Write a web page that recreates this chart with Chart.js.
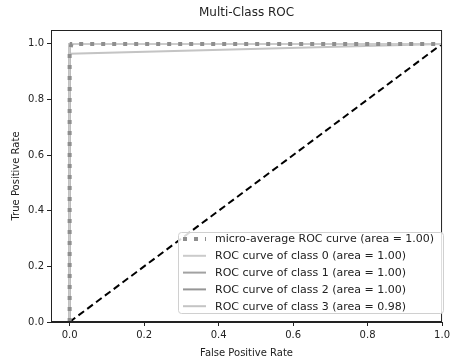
<!DOCTYPE html>
<html>
<head>
<meta charset="utf-8">
<script src="https://cdn.jsdelivr.net/npm/chart.js@4.4.0/dist/chart.umd.min.js"></script>
<style>
  html, body { margin: 0; padding: 0; background: #fff; }
  #wrap { width: 453px; height: 359px; }
</style>
</head>
<body>
<div id="wrap"><canvas id="roc" width="453" height="359"></canvas></div>
<script>
// curve data
const microFpr = [0, 0, 0.005, 1]
const microTpr = [0, 0.97, 1, 1]
const class0Fpr = [0, 0, 1]
const class0Tpr = [0, 1, 1]
const class1Fpr = [0, 0, 1]
const class1Tpr = [0, 1, 1]
const class2Fpr = [0, 0, 1]
const class2Tpr = [0, 1, 1]
const class3Fpr = [0, 0, 1]
const class3Tpr = [0, 0.965, 1]
const chanceFpr = [0, 1]
const chanceTpr = [0, 1]
const tickValues = [0, 0.2, 0.4, 0.6, 0.8, 1.0]
const labels = [
    'micro-average ROC curve (area = 1.00)',
    'ROC curve of class 0 (area = 1.00)',
    'ROC curve of class 1 (area = 1.00)',
    'ROC curve of class 2 (area = 1.00)',
    'ROC curve of class 3 (area = 0.98)'
]

const toPoints = (xs, ys) => xs.map((x, i) => ({ x: x, y: ys[i] }))
const font = 'DejaVu Sans'

function line(label, xs, ys, color, width, dash) {
    return {
        label: label,
        data: toPoints(xs, ys),
        showLine: true,
        borderColor: color,
        borderWidth: width,
        borderDash: dash || [],
        pointRadius: 0,
        fill: false,
        tension: 0
    }
}

// frame on all four sides + legend box inside the plot
const framePlugin = {
    id: 'frame',
    afterDraw(chart) {
        const { ctx, chartArea: a } = chart
        ctx.save()
        ctx.strokeStyle = '#222'
        ctx.lineWidth = 1
        ctx.strokeRect(a.left + 0.5, a.top + 0.5, a.right - a.left - 1, a.bottom - a.top - 1)

        // legend
        const bx = 178, by = 232, bw = 266, bh = 82
        ctx.fillStyle = 'rgba(255,255,255,0.85)'
        ctx.strokeStyle = '#d0d0d0'
        ctx.beginPath()
        ctx.roundRect(bx + 0.5, by + 0.5, bw - 1, bh - 1, 3)
        ctx.fill()
        ctx.stroke()
        ctx.font = '11px ' + font
        ctx.textBaseline = 'middle'
        chart.data.datasets.slice(0, 5).forEach((ds, i) => {
            const y = 239 + i * 16.8
            ctx.strokeStyle = ds.borderColor
            ctx.lineWidth = ds.borderWidth
            ctx.setLineDash(ds.borderDash)
            ctx.beginPath()
            ctx.moveTo(183, y)
            ctx.lineTo(206, y)
            ctx.stroke()
            ctx.setLineDash([])
            ctx.fillStyle = '#222'
            ctx.fillText(ds.label, 215, y + 0.5)
        })
        ctx.restore()
    }
}

new Chart(document.getElementById('roc').getContext('2d'), {
    type: 'scatter',
    data: {
        datasets: [
            line(labels[0], microFpr, microTpr, '#8e8e8e', 4, [4, 7]),
            line(labels[1], class0Fpr, class0Tpr, '#cbcbcb', 2),
            line(labels[2], class1Fpr, class1Tpr, '#a2a2a2', 2),
            line(labels[3], class2Fpr, class2Tpr, '#969696', 2),
            line(labels[4], class3Fpr, class3Tpr, '#c4c4c4', 2),
            line('chance', chanceFpr, chanceTpr, '#000', 2, [7, 4])
        ]
    },
    options: {
        responsive: false,
        animation: false,
        layout: { padding: { left: 0, right: 9, top: 0, bottom: 0 } },
        plugins: {
            legend: { display: false },
            tooltip: { enabled: false },
            title: {
                display: true,
                text: 'Multi-Class ROC',
                fullSize: false,
                color: '#222',
                font: { family: font, size: 12, weight: 'normal' },
                padding: { top: 6, bottom: 9.6 }
            }
        },
        scales: {
            x: {
                type: 'linear',
                min: -0.05,
                max: 1.0,
                afterBuildTicks: s => { s.ticks = tickValues.map(v => ({ value: v })) },
                afterFit: s => { s.height = 37 },
                grid: { drawOnChartArea: false, drawTicks: true, tickLength: 4, color: '#222' },
                border: { display: true, color: '#222' },
                ticks: {
                    color: '#222',
                    font: { family: font, size: 10 },
                    padding: 3,
                    maxRotation: 0,
                    callback: v => v.toFixed(1)
                },
                title: {
                    display: true,
                    text: 'False Positive Rate',
                    color: '#222',
                    font: { family: font, size: 10 },
                    padding: { top: 2, bottom: 0 }
                }
            },
            y: {
                type: 'linear',
                min: 0,
                max: 1.05,
                afterBuildTicks: s => { s.ticks = tickValues.map(v => ({ value: v })) },
                afterFit: s => { s.width = 51 },
                grid: { drawOnChartArea: false, drawTicks: true, tickLength: 4, color: '#222' },
                border: { display: true, color: '#222' },
                ticks: {
                    color: '#222',
                    font: { family: font, size: 10 },
                    padding: 3,
                    callback: v => v.toFixed(1)
                },
                title: {
                    display: true,
                    text: 'True Positive Rate',
                    color: '#222',
                    font: { family: font, size: 10 },
                    padding: { top: 10, bottom: 4 }
                }
            }
        }
    },
    plugins: [framePlugin]
})
</script>
</body>
</html>
